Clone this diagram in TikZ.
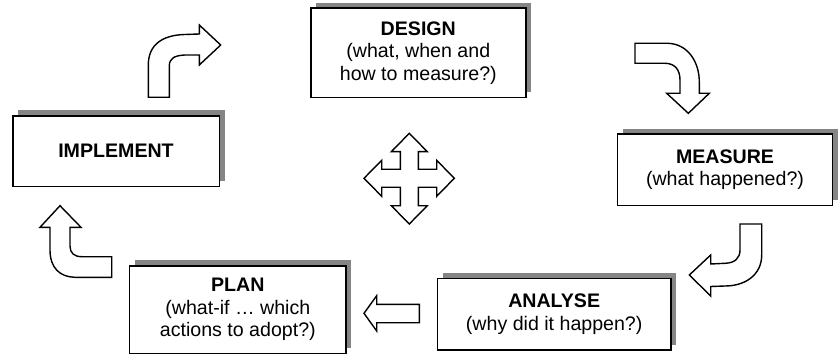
\documentclass[tikz,border=0pt]{standalone}
\usepackage{fontspec}
\setmainfont{Liberation Sans}
\usetikzlibrary{shadows}
\definecolor{shadowgray}{HTML}{858585}
\newcommand{\boxfont}{\fontsize{19.6pt}{22.5pt}\selectfont}
\tikzset{
  box/.style={draw, line width=1.5pt, fill=white, inner sep=0pt, align=center,
    font=\boxfont,
    drop shadow={shadow xshift=5.5pt, shadow yshift=5.5pt, fill=shadowgray, opacity=1}},
  blockarrow/.style={draw, line width=1.4pt, fill=white, line join=miter}
}
\begin{document}
\begin{tikzpicture}[x=1pt, y=-1pt]
\useasboundingbox (0,0) rectangle (840,358);

% boxes
\node[box, minimum width=215pt, minimum height=89.5pt] (design) at (418.3,52.8)
  {\textbf{DESIGN}\\(what, when and\\how to measure?)};
\node[box, minimum width=206.5pt, minimum height=70.8pt] (implement) at (116,151.2)
  {\textbf{IMPLEMENT}};
\node[box, minimum width=215pt, minimum height=71.2pt] (measure) at (725,169.7)
  {\textbf{MEASURE}\\(what happened?)};
\node[box, minimum width=233.5pt, minimum height=71.8pt] (analyse) at (554.2,314.3)
  {\textbf{ANALYSE}\\(why did it happen?)};
\node[box, minimum width=216.2pt, minimum height=87.8pt] (plan) at (237.8,309.7)
  {\textbf{PLAN}\\(what-if \dots\ which\\actions to adopt?)};

% IMPLEMENT -> DESIGN
\draw[blockarrow] (148.3,97.3) -- (148.3,65) .. controls (148.3,45) and (162,35) .. (185,34.5)
  -- (199.3,34) -- (199.3,25) -- (220.7,45) -- (199.3,65) -- (199.3,55) -- (185,55)
  .. controls (175,55.5) and (169.3,58) .. (169.3,66) -- (169.3,97.3) -- cycle;

% DESIGN -> MEASURE
\draw[blockarrow] (635,43.3) -- (668,43.3) .. controls (688,44) and (699.3,62) .. (699.3,82)
  -- (699.3,93.3) -- (709.3,93.3) -- (688.3,113.3) -- (666.7,93.3) -- (680,93.3)
  -- (680,80) .. controls (680,70) and (675,63.3) .. (665,63.3) -- (635,63.3) -- cycle;

% MEASURE -> ANALYSE
\draw[blockarrow] (740,224) -- (761.7,224) -- (761.7,255) .. controls (761.7,275) and (745,286) .. (725,286)
  -- (710.7,286.5) -- (710.7,296) -- (689.3,275) -- (710.7,255) -- (710.7,264)
  -- (725,263.3) .. controls (735,263) and (740,258) .. (740,250) -- cycle;

% ANALYSE -> PLAN
\draw[blockarrow] (419.3,304.3) -- (376.7,304.3) -- (376.7,295.7) -- (364,313.3)
  -- (376.7,331) -- (376.7,322.7) -- (419.3,322.7) -- cycle;

% PLAN -> IMPLEMENT
\draw[blockarrow] (111.7,256.7) -- (111.7,277.3) -- (75,277.3) .. controls (60,277) and (50,268) .. (50,250)
  -- (50,227.3) -- (40,227.3) -- (60,205.7) -- (81,227.3) -- (70,227.3) -- (70,246)
  .. controls (70,253) and (74,256.7) .. (82,256.7) -- cycle;

% centre four-way arrow
\draw[blockarrow] (409.3,133.3) -- (427.3,151.7) -- (418.3,151.7) -- (418.3,169.3)
  -- (436.7,169.3) -- (436.7,160.3) -- (454.3,178.3) -- (436.7,196.3) -- (436.7,187.3)
  -- (418.3,187.3) -- (418.3,205.7) -- (427.3,205.7) -- (409.3,224) -- (391.3,205.7)
  -- (400.3,205.7) -- (400.3,187.3) -- (381.7,187.3) -- (381.7,196.3) -- (364,178.3)
  -- (381.7,160.3) -- (381.7,169.3) -- (400.3,169.3) -- (400.3,151.7) -- (391.3,151.7) -- cycle;
\end{tikzpicture}
\end{document}
